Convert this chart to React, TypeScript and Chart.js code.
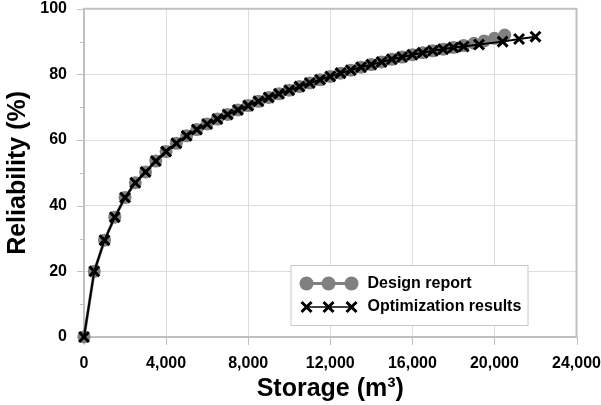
import React, { useEffect, useRef } from "react";
import { Chart, registerables } from "chart.js";

Chart.register(...registerables);

const storageDesign = [
  0, 500, 1000, 1500, 2000, 2500, 3000, 3500, 4000, 4500, 5000, 5500, 6000, 6500,
  7000, 7500, 8000, 8500, 9000, 9500, 10000, 10500, 11000, 11500, 12000, 12500,
  13000, 13500, 14000, 14500, 15000, 15500, 16000, 16500, 17000, 17500, 18000,
  18500, 19000, 19500, 20000, 20500,
];
const reliabilityDesign = [
  0, 20, 29.5, 36.5, 42.5, 47, 50.3, 53.6, 56.5, 59, 61.3, 63.2, 64.9, 66.4,
  67.8, 69.2, 70.5, 71.8, 73, 74.1, 75.2, 76.3, 77.4, 78.4, 79.4, 80.4,
  81.3, 82.2, 83, 83.8, 84.6, 85.3, 86, 86.6, 87.2, 87.7, 88.2,
  88.8, 89.5, 90.2, 91, 92,
];
const storageOpt = [
  0, 500, 1000, 1500, 2000, 2500, 3000, 3500, 4000, 4500, 5000, 5500, 6000, 6500,
  7000, 7500, 8000, 8500, 9000, 9500, 10000, 10500, 11000, 11500, 12000, 12500,
  13000, 13500, 14000, 14500, 15000, 15500, 16000, 16500, 17000, 17500, 18000,
  18500, 19250, 20400, 21200, 22000,
];
const reliabilityOpt = [
  0, 20, 29.5, 36.5, 42.5, 47, 50.3, 53.6, 56.5, 59, 61.3, 63.2, 64.9, 66.4,
  67.8, 69.2, 70.5, 71.8, 73, 74.1, 75.2, 76.3, 77.4, 78.4, 79.4, 80.4,
  81.3, 82.2, 83, 83.8, 84.6, 85.3, 86, 86.6, 87.2, 87.7, 88.2,
  88.5, 89.1, 90, 90.8, 91.5,
];
const seriesNames = ["Design report", "Optimization results"];
const xTicks = [0, 4000, 8000, 12000, 16000, 20000, 24000];
const majorYTicks = [0, 20, 40, 60, 80, 100];
const minorYTicks = [10, 30, 50, 70, 90];

const FONT = "'Liberation Sans', Arial, sans-serif";
const FRAME = "#c0c0c0";
const GRID = "#dddddd";
const GRAYDOT = "#808080";

const framePlugin = {
  id: "frame",
  beforeDatasetsDraw(chart: any) {
    const { ctx, chartArea: a, scales } = chart;
    ctx.save();
    ctx.strokeStyle = FRAME;
    ctx.lineWidth = 1;
    // tick marks
    majorYTicks.forEach((v) => {
      const y = Math.round(scales.y.getPixelForValue(v)) + 0.5;
      ctx.beginPath();
      ctx.moveTo(a.left - 7, y);
      ctx.lineTo(a.left, y);
      ctx.stroke();
    });
    minorYTicks.forEach((v) => {
      const y = Math.round(scales.y.getPixelForValue(v)) + 0.5;
      ctx.beginPath();
      ctx.moveTo(a.left - 4, y);
      ctx.lineTo(a.left, y);
      ctx.stroke();
    });
    xTicks.forEach((v) => {
      const x = Math.round(scales.x.getPixelForValue(v)) + 0.5;
      ctx.beginPath();
      ctx.moveTo(x, a.bottom);
      ctx.lineTo(x, a.bottom + 8);
      ctx.stroke();
    });
    ctx.lineWidth = 2;
    ctx.strokeRect(a.left, a.top, a.right - a.left, a.bottom - a.top);
    ctx.restore();
  },
};

const legendPlugin = {
  id: "boxLegend",
  afterDraw(chart: any) {
    const { ctx, chartArea: a } = chart;
    const w = 237;
    const h = 60;
    const x0 = a.right - 49 - w;
    const y0 = a.bottom - 12 - h;
    ctx.save();
    ctx.fillStyle = "#ffffff";
    ctx.fillRect(x0, y0, w, h);
    ctx.strokeStyle = "#c8c8c8";
    ctx.lineWidth = 1;
    ctx.strokeRect(x0 + 0.5, y0 + 0.5, w, h);

    const r1 = y0 + 18.5;
    const r2 = y0 + 42;
    const sx = [x0 + 16, x0 + 38, x0 + 61];

    ctx.strokeStyle = GRAYDOT;
    ctx.lineWidth = 3;
    ctx.beginPath();
    ctx.moveTo(sx[0], r1);
    ctx.lineTo(sx[2], r1);
    ctx.stroke();
    ctx.fillStyle = GRAYDOT;
    sx.forEach((x) => {
      ctx.beginPath();
      ctx.arc(x, r1, 7, 0, Math.PI * 2);
      ctx.fill();
    });

    ctx.strokeStyle = "#000000";
    ctx.lineWidth = 1.5;
    ctx.beginPath();
    ctx.moveTo(sx[0], r2);
    ctx.lineTo(sx[2], r2);
    ctx.stroke();
    ctx.lineWidth = 3;
    sx.forEach((x) => {
      const d = 5;
      ctx.beginPath();
      ctx.moveTo(x - d, r2 - d);
      ctx.lineTo(x + d, r2 + d);
      ctx.moveTo(x - d, r2 + d);
      ctx.lineTo(x + d, r2 - d);
      ctx.stroke();
    });

    ctx.fillStyle = "#000000";
    ctx.font = `bold 16px ${FONT}`;
    ctx.textBaseline = "middle";
    ctx.textAlign = "left";
    ctx.fillText(seriesNames[0], x0 + 77, r1);
    ctx.fillText(seriesNames[1], x0 + 77, r2);
    ctx.restore();
  },
};

export default function App() {
  const ref = useRef<HTMLCanvasElement | null>(null);

  useEffect(() => {
    if (!ref.current) return;
    const chart = new Chart(ref.current, {
      type: "scatter",
      data: {
        datasets: [
          {
            label: seriesNames[1],
            data: storageOpt.map((x, i) => ({ x, y: reliabilityOpt[i] })),
            showLine: true,
            borderColor: "#000000",
            borderWidth: 2,
            pointStyle: "crossRot",
            pointRadius: 7,
            pointBorderWidth: 3,
            pointBorderColor: "#000000",
            pointBackgroundColor: "#000000",
            clip: false,
            order: 1,
          },
          {
            label: seriesNames[0],
            data: storageDesign.map((x, i) => ({ x, y: reliabilityDesign[i] })),
            showLine: true,
            borderColor: GRAYDOT,
            borderWidth: 3,
            pointStyle: "circle",
            pointRadius: 6.5,
            pointBorderWidth: 0,
            pointBackgroundColor: GRAYDOT,
            pointBorderColor: GRAYDOT,
            clip: false,
            order: 2,
          },
        ],
      },
      options: {
        animation: false,
        responsive: false,
        layout: { autoPadding: false, padding: { left: 0, right: 0, top: 0, bottom: 0 } },
        plugins: {
          legend: { display: false },
          tooltip: { enabled: false },
        },
        scales: {
          x: {
            type: "linear",
            min: 0,
            max: 24000,
            border: { display: false },
            grid: {
              color: GRID,
              lineWidth: 1,
              tickColor: "rgba(0,0,0,0)",
              tickLength: 19,
            },
            ticks: {
              stepSize: 4000,
              padding: 0,
              color: "#000000",
              font: { family: FONT, size: 16, weight: "bold", lineHeight: 1 },
              callback: (v: any) => Number(v).toLocaleString("en-US"),
              maxRotation: 0,
            },
            title: {
              display: true,
              text: "Storage (m³)",
              color: "#000000",
              font: { family: FONT, size: 25, weight: "bold", lineHeight: 1 },
              padding: { top: 4.5, bottom: 3.5 },
            },
          },
          y: {
            type: "linear",
            min: 0,
            max: 100,
            border: { display: false },
            grid: {
              color: GRID,
              lineWidth: 1,
              tickColor: "rgba(0,0,0,0)",
              tickLength: 17,
            },
            ticks: {
              stepSize: 20,
              padding: 0,
              color: "#000000",
              font: { family: FONT, size: 16, weight: "bold", lineHeight: 1.1 },
            },
            title: {
              display: true,
              text: "Reliability (%)",
              color: "#000000",
              font: { family: FONT, size: 25, weight: "bold", lineHeight: 1 },
              padding: { top: 5.5, bottom: 9.8 },
            },
          },
        },
      },
      plugins: [framePlugin, legendPlugin],
    } as any);
    return () => chart.destroy();
  }, []);

  return (
    <div style={{ position: "absolute", left: 0, top: 0, width: 601, height: 405, background: "#ffffff" }}>
      <canvas ref={ref} width={601} height={405} style={{ display: "block" }} />
    </div>
  );
}
